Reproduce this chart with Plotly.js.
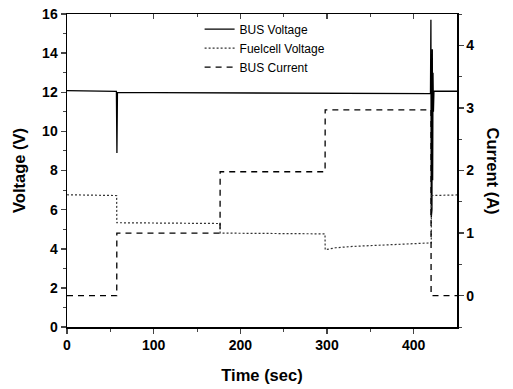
<!DOCTYPE html>
<html>
<head>
<meta charset="utf-8">
<script src="https://cdn.plot.ly/plotly-3.0.1.min.js"></script>
<style>
  html, body { margin: 0; padding: 0; background: #fff; }
  #chart { width: 513px; height: 389px; }
</style>
</head>
<body>
<div id="chart"></div>
<script>
// ---- Data ----
// BUS voltage (V) vs time (sec)
const busVoltTime = [0, 30, 57.0, 57.6, 58.2, 100, 200, 300, 400, 419.4, 419.9, 420.3, 420.7, 421.1, 421.5, 421.9, 422.3, 422.8, 423.4, 450];
const busVoltage  = [12.08, 12.07, 12.05, 8.9, 11.98, 11.98, 11.96, 11.95, 11.93, 11.93, 15.7, 5.6, 15.2, 6.0, 14.2, 7.5, 13.0, 11.0, 12.05, 12.05];

// Fuel-cell voltage (V) vs time (sec)
const fcTime    = [0, 30, 57.3, 57.5, 100, 150, 176.5, 176.7, 230, 297.7, 297.9, 310, 330, 360, 390, 420.3, 420.5, 440, 450];
const fcVoltage = [6.76, 6.74, 6.72, 5.33, 5.31, 5.30, 5.29, 4.80, 4.78, 4.76, 3.95, 4.05, 4.12, 4.18, 4.23, 4.30, 6.72, 6.75, 6.75];

// BUS current (A) vs time (sec)
const curTime    = [0, 57.4, 57.5, 176.6, 176.7, 297.8, 297.9, 420.0, 420.1, 450];
const busCurrent = [0.0, 0.0, 1.0, 1.0, 1.98, 1.98, 2.97, 2.97, 0.0, 0.0];

// Axis ticks
const xTicks  = [0, 100, 200, 300, 400];
const yTicks  = [0, 2, 4, 6, 8, 10, 12, 14, 16];
const y2Ticks = [0, 1, 2, 3, 4];

const FONT = 'Liberation Sans, Arial, sans-serif';

const traces = [
  { x: busVoltTime, y: busVoltage, name: 'BUS Voltage', mode: 'lines',
    line: { color: '#000', width: 1.3 }, xaxis: 'x', yaxis: 'y' },
  { x: fcTime, y: fcVoltage, name: 'Fuelcell Voltage', mode: 'lines',
    line: { color: '#333', width: 1.2, dash: '2px,2px' }, xaxis: 'x', yaxis: 'y' },
  { x: curTime, y: busCurrent, name: 'BUS Current', mode: 'lines',
    line: { color: '#000', width: 1.3, dash: '6px,5px' }, xaxis: 'x', yaxis: 'y2' },
  { x: [], y: [], xaxis: 'x2', yaxis: 'y', showlegend: false, hoverinfo: 'skip', mode: 'lines' }
];

const tickFont = { family: FONT, size: 14, color: '#000', weight: 'bold' };
const titleFont = { family: FONT, size: 16.5, color: '#000', weight: 'bold' };

const layout = {
  width: 513, height: 389,
  margin: { l: 67, r: 56, t: 14, b: 62 },
  paper_bgcolor: '#fff', plot_bgcolor: '#fff',
  font: { family: FONT, color: '#000' },
  showlegend: true,
  legend: {
    x: 0.34, y: 0.998, xanchor: 'left', yanchor: 'top',
    bgcolor: 'rgba(0,0,0,0)', borderwidth: 0,
    font: { family: FONT, size: 12, color: '#000' },
    tracegroupgap: 0
  },
  xaxis: {
    range: [0, 450], tickvals: xTicks, ticks: 'outside', ticklen: 5, tickwidth: 1.5,
    showline: true, linewidth: 1.5, linecolor: '#000', showgrid: false, zeroline: false,
    minor: { tickvals: [50, 150, 250, 350], ticks: 'outside', ticklen: 3, tickwidth: 1 },
    tickfont: tickFont,
    title: { text: 'Time (sec)', font: titleFont, standoff: 17 }
  },
  xaxis2: {
    overlaying: 'x', side: 'top', range: [0, 450], tickvals: xTicks,
    ticks: 'inside', ticklen: 5, tickwidth: 1.5, showticklabels: false,
    showline: true, linewidth: 1.5, linecolor: '#000', showgrid: false, zeroline: false,
    minor: { tickvals: [50, 150, 250, 350], ticks: 'inside', ticklen: 3, tickwidth: 1 }
  },
  yaxis: {
    range: [0, 16], tickvals: yTicks, ticks: 'outside', ticklen: 5, tickwidth: 1.5,
    showline: true, linewidth: 1.5, linecolor: '#000', showgrid: false, zeroline: false,
    minor: { dtick: 1, ticks: 'outside', ticklen: 3, tickwidth: 1 },
    tickfont: tickFont,
    title: { text: 'Voltage (V)', font: titleFont, standoff: 12 }
  },
  yaxis2: {
    overlaying: 'y', side: 'right', range: [-0.5, 4.5], tickvals: y2Ticks,
    ticks: 'outside', ticklen: 5, tickwidth: 1.5,
    showline: true, linewidth: 1.5, linecolor: '#000', showgrid: false, zeroline: false,
    minor: { dtick: 0.5, ticks: 'outside', ticklen: 3, tickwidth: 1 },
    tickfont: tickFont
  },
  annotations: [
    { text: 'Current (A)', xref: 'paper', yref: 'paper', x: 1, y: 0.5,
      xanchor: 'center', yanchor: 'middle', xshift: 36, textangle: 90,
      showarrow: false, font: titleFont }
  ]
};

Plotly.newPlot('chart', traces, layout, { staticPlot: true, displayModeBar: false });
</script>
</body>
</html>
